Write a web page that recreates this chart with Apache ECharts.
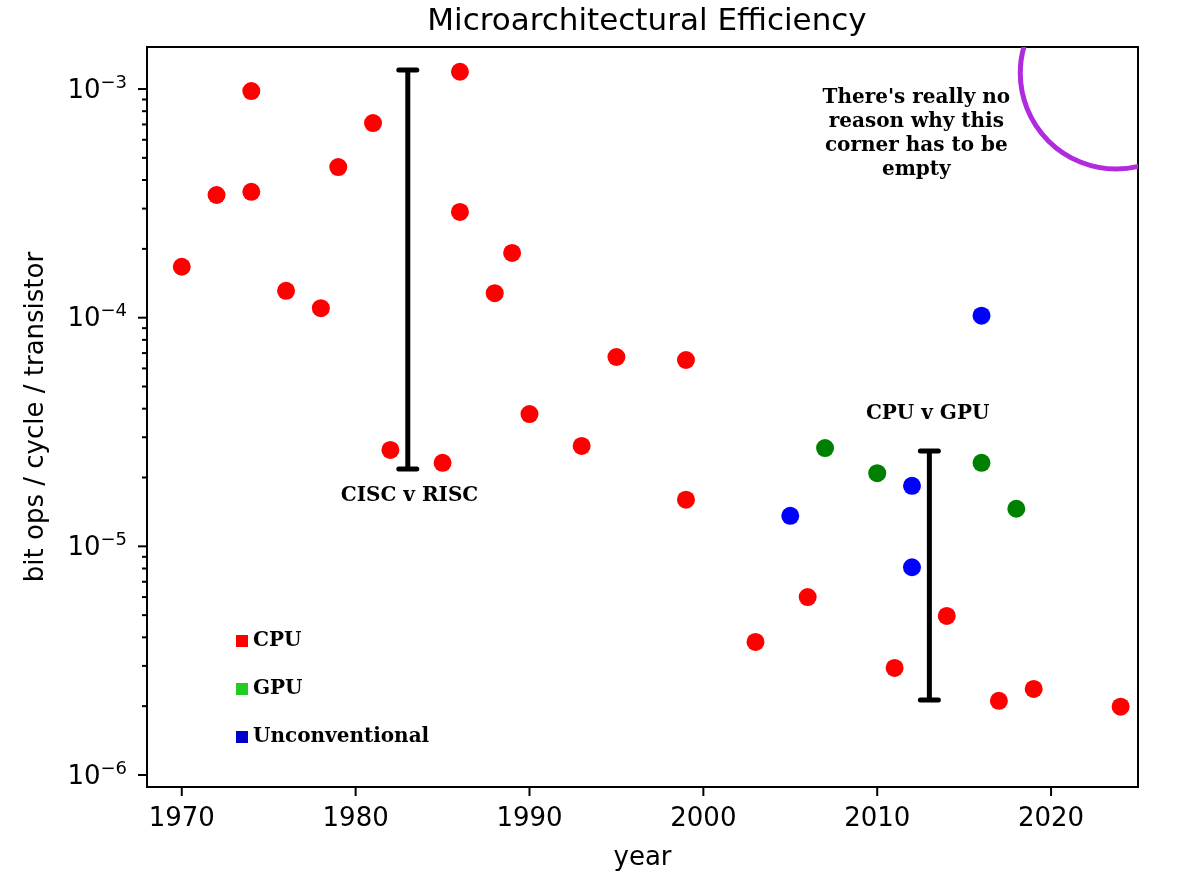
<!DOCTYPE html>
<html>
<head>
<meta charset="utf-8">
<script src="https://cdn.jsdelivr.net/npm/echarts@6/dist/echarts.min.js"></script>
<style>
    html, body { margin: 0; padding: 0; background: #fff; }
    #main { width: 1178px; height: 884px; }
</style>
</head>
<body>
<div id="main"></div>
<script>
// data
var cpuYears = [1970, 1972, 1974, 1974, 1976, 1978, 1979, 1981, 1982, 1985, 1986, 1986, 1988,
    1989, 1990, 1993, 1995, 1999, 1999, 2003, 2006, 2011, 2014, 2017, 2019, 2024]
var cpuValues = [1.67e-4, 3.44e-4, 9.8e-4, 3.55e-4, 1.31e-4, 1.10e-4, 4.56e-4, 7.1e-4, 2.64e-5,
    2.32e-5, 1.19e-3, 2.9e-4, 1.28e-4, 1.92e-4, 3.79e-5, 2.75e-5, 6.73e-5, 6.53e-5, 1.6e-5,
    3.82e-6, 6.0e-6, 2.94e-6, 4.96e-6, 2.11e-6, 2.38e-6, 1.99e-6]
var gpuYears = [2007, 2010, 2016, 2018]
var gpuValues = [2.69e-5, 2.09e-5, 2.32e-5, 1.46e-5]
var unconvYears = [2005, 2012, 2012, 2016]
var unconvValues = [1.36e-5, 1.84e-5, 8.1e-6, 1.02e-4]

// vertical range bars
var barYears = [1983, 2013]
var barLow = [2.18e-5, 2.13e-6]
var barHigh = [1.21e-3, 2.61e-5]

// annotations
var noteTexts = ['CISC v RISC', 'CPU v GPU', "There's really no\nreason why this\ncorner has to be\nempty"]
var noteYears = [1983.1, 2012.9, 2012.25]
var noteValues = [1.66e-5, 3.79e-5, 6.35e-4]

// the purple circle in the corner
var circleYear = [2023.75]
var circleValue = [1.175e-3]

// axes
var xMin = 1968, xMax = 2025
var yMin = 0.886e-6, yMax = 1.527e-3
var xTicks = [1970, 1980, 1990, 2000, 2010, 2020]
var yMajor = [1e-6, 1e-5, 1e-4, 1e-3]
var yMinor = [2e-6, 3e-6, 4e-6, 5e-6, 6e-6, 7e-6, 8e-6, 9e-6,
    2e-5, 3e-5, 4e-5, 5e-5, 6e-5, 7e-5, 8e-5, 9e-5,
    2e-4, 3e-4, 4e-4, 5e-4, 6e-4, 7e-4, 8e-4, 9e-4]

function zip(a, b) {
    return a.map(function (v, i) { return [v, b[i]] })
}

var chart = echarts.init(document.getElementById('main'))

var tickData = []
xTicks.forEach(function (t) { tickData.push([t, yMin, 0, 9]) })
yMajor.forEach(function (t) { tickData.push([xMin, t, 1, 9]) })
yMinor.forEach(function (t) { tickData.push([xMin, t, 1, 5]) })

var serifBold = { fontFamily: 'DejaVu Serif', fontWeight: 'bold', fontSize: 20, color: '#000' }

var option = {
    backgroundColor: '#fff',
    animation: false,
    title: {
        text: 'Microarchitectural Efficiency',
        left: 642,
        textAlign: 'center',
        top: 1,
        textStyle: { fontFamily: 'DejaVu Sans', fontSize: 31, fontWeight: 'normal', color: '#000' }
    },
    legend: {
        orient: 'vertical',
        left: 231,
        top: 626,
        icon: 'rect',
        itemWidth: 12,
        itemHeight: 12,
        itemGap: 28,
        selectedMode: false,
        textStyle: serifBold,
        data: [
            { name: 'CPU', itemStyle: { color: '#ff0000', opacity: 1 } },
            { name: 'GPU', itemStyle: { color: '#22cc22', opacity: 1 } },
            { name: 'Unconventional', itemStyle: { color: '#0000cc', opacity: 1 } }
        ]
    },
    grid: {
        left: 147, top: 47, width: 991, height: 740,
        show: true, borderColor: '#000', borderWidth: 2
    },
    xAxis: {
        type: 'value',
        min: xMin,
        max: xMax,
        name: 'year',
        nameLocation: 'middle',
        nameGap: 58,
        nameTextStyle: { fontFamily: 'DejaVu Sans', fontSize: 26, color: '#000' },
        axisLine: { lineStyle: { color: '#000', width: 2 } },
        axisTick: { show: false },
        splitLine: { show: false },
        axisLabel: {
            margin: 19,
            fontFamily: 'DejaVu Sans', fontSize: 26, color: '#000',
            formatter: function (v) { return xTicks.indexOf(v) >= 0 ? String(v) : '' }
        }
    },
    yAxis: {
        type: 'log',
        logBase: 10,
        min: yMin,
        max: yMax,
        name: 'bit ops / cycle / transistor',
        nameLocation: 'middle',
        nameRotate: 90,
        nameGap: 98,
        nameTextStyle: { fontFamily: 'DejaVu Sans', fontSize: 26, color: '#000' },
        axisLine: { show: true, lineStyle: { color: '#000', width: 2 } },
        axisTick: { show: false },
        splitLine: { show: false },
        axisLabel: {
            margin: 20,
            color: '#000',
            formatter: function (v) {
                var e = Math.log10(v)
                if (Math.abs(e - Math.round(e)) > 1e-6) return ''
                return '{b|10}{s|\u2212' + Math.abs(Math.round(e)) + '}'
            },
            rich: {
                b: { fontFamily: 'DejaVu Sans', fontSize: 26, color: '#000', padding: [4, 0, 0, 0] },
                s: { fontFamily: 'DejaVu Sans', fontSize: 18, color: '#000', padding: [0, 0, 12, 0] }
            }
        }
    },
    series: [
        {
            name: 'CPU', type: 'scatter', symbolSize: 18,
            itemStyle: { color: '#ff0000', opacity: 1 },
            data: zip(cpuYears, cpuValues)
        },
        {
            name: 'GPU', type: 'scatter', symbolSize: 18,
            itemStyle: { color: '#008000', opacity: 1 },
            data: zip(gpuYears, gpuValues)
        },
        {
            name: 'Unconventional', type: 'scatter', symbolSize: 18,
            itemStyle: { color: '#0000ff', opacity: 1 },
            data: zip(unconvYears, unconvValues)
        },
        {
            // range bars
            type: 'custom', silent: true,
            data: barYears.map(function (y, i) { return [y, barLow[i], barHigh[i]] }),
            renderItem: function (params, api) {
                var top = api.coord([api.value(0), api.value(2)])
                var bot = api.coord([api.value(0), api.value(1)])
                var w = 9
                var st = { stroke: '#000', lineWidth: 5, lineCap: 'round' }
                return {
                    type: 'group',
                    children: [
                        { type: 'line', shape: { x1: top[0], y1: top[1], x2: bot[0], y2: bot[1] }, style: { stroke: '#000', lineWidth: 5 } },
                        { type: 'line', shape: { x1: top[0] - w, y1: top[1], x2: top[0] + w, y2: top[1] }, style: st },
                        { type: 'line', shape: { x1: bot[0] - w, y1: bot[1], x2: bot[0] + w, y2: bot[1] }, style: st }
                    ]
                }
            }
        },
        {
            // text notes
            type: 'custom', silent: true,
            data: noteYears.map(function (y, i) { return [y, noteValues[i], i] }),
            renderItem: function (params, api) {
                var p = api.coord([api.value(0), api.value(1)])
                return {
                    type: 'text',
                    style: {
                        x: p[0], y: p[1],
                        text: noteTexts[api.value(2)],
                        align: 'center', verticalAlign: 'middle',
                        fontFamily: 'DejaVu Serif', fontWeight: 'bold', fontSize: 20,
                        lineHeight: 24, fill: '#000'
                    }
                }
            }
        },
        {
            // purple circle, clipped by the frame
            type: 'custom', silent: true,
            data: zip(circleYear, circleValue),
            renderItem: function (params, api) {
                var c = api.coord([api.value(0), api.value(1)])
                var cs = params.coordSys
                return {
                    type: 'group',
                    clipPath: { type: 'rect', shape: { x: cs.x, y: cs.y, width: cs.width, height: cs.height } },
                    children: [{
                        type: 'circle',
                        shape: { cx: c[0], cy: c[1], r: 96 },
                        style: { fill: 'none', stroke: '#b02ae0', lineWidth: 5 }
                    }]
                }
            }
        },
        {
            // axis ticks, outward like the original
            type: 'custom', silent: true,
            data: tickData,
            renderItem: function (params, api) {
                var p = api.coord([api.value(0), api.value(1)])
                var len = api.value(3)
                var shape = api.value(2) === 0
                    ? { x1: p[0], y1: p[1], x2: p[0], y2: p[1] + len }
                    : { x1: p[0], y1: p[1], x2: p[0] - len, y2: p[1] }
                return { type: 'line', shape: shape, style: { stroke: '#000', lineWidth: 2 } }
            }
        }
    ]
}
chart.setOption(option)
</script>
</body>
</html>
